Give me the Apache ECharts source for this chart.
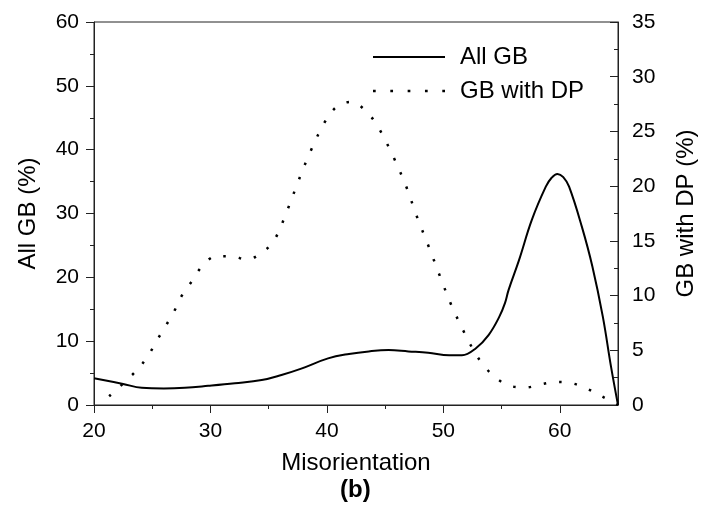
<!DOCTYPE html>
<html>
<head>
<meta charset="utf-8">
<script src="https://cdn.jsdelivr.net/npm/echarts@6/dist/echarts.min.js"></script>
<style>html,body{margin:0;padding:0;background:#fff}#c{width:713px;height:516px}</style>
</head>
<body>
<div id="c"></div>
<script>
// Data
var allGbX = [20, 22.5, 24.1, 26, 27.8, 29.8, 32.1, 34.4, 36.1, 37.8, 40.1, 41.9, 43.6, 45.3, 47.0, 48.7, 50.5, 51.6, 52.8, 53.9, 54.8, 55.3, 55.6, 56.5, 57.6, 58.8, 59.3, 59.8, 60.3, 60.8, 61.9, 62.8, 63.7, 64.4, 65];
var allGbY = [4.2, 3.3, 2.7, 2.6, 2.7, 3.0, 3.4, 3.9, 4.7, 5.7, 7.3, 8.0, 8.4, 8.6, 8.4, 8.2, 7.8, 7.8, 8.9, 11.0, 13.8, 16.0, 18.0, 22.7, 29.0, 34.2, 35.6, 36.2, 35.7, 34.2, 27.9, 21.7, 13.8, 6.0, 0];
var dpX = [21.3, 23.7, 24.7, 25.4, 26.2, 26.9, 27.6, 28.4, 29.3, 30.5, 31.8, 33.1, 34.4, 35.5, 36.6, 37.6, 38.6, 39.9, 40.9, 42.1, 43.4, 44.4, 45.7, 46.8, 47.7, 48.7, 49.7, 50.7, 51.9, 52.6, 53.4, 54.6, 55.9, 57.1, 58.4, 59.7, 61.0, 62.3, 63.6, 65];
var dpY = [0.8, 3.2, 4.6, 5.9, 7.3, 8.6, 10.1, 11.3, 12.7, 13.6, 13.6, 13.3, 13.9, 15.1, 17.8, 20.6, 23.2, 26.0, 27.3, 27.7, 26.8, 25.4, 22.7, 20.0, 17.3, 14.6, 11.8, 9.1, 6.4, 5.0, 3.7, 2.4, 1.7, 1.6, 1.9, 2.1, 2.0, 1.5, 0.8, 0];
var xMajorTicks = [20, 30, 40, 50, 60];
var xMinorTicks = [25, 35, 45, 55];
var seriesNames = ['All GB', 'GB with DP'];
var xTitle = 'Misorientation';
var yLeftTitle = 'All GB (%)';
var yRightTitle = 'GB with DP (%)';
var panelLabel = '(b)';

function zip(xs, ys) { return xs.map(function (x, i) { return [x, ys[i]]; }); }

var FONT = '"Liberation Sans", Arial, sans-serif';
var AX = '#222';
var solidIcon = 'path://M0,0 L72,0 L72,2 L0,2 Z';
var dotIcon = 'path://M0,0h2.5v2.5h-2.5Z M16,0h2.5v2.5h-2.5Z M32,0h2.5v2.5h-2.5Z M48,0h2.5v2.5h-2.5Z M64,0h2.5v2.5h-2.5Z';

var chart = echarts.init(document.getElementById('c'), null, {renderer: 'canvas'});
chart.setOption({
  animation: false,
  backgroundColor: '#fff',
  grid: {left: 94, right: 95, top: 22, bottom: 111, show: true, borderColor: AX, borderWidth: 1, backgroundColor: 'transparent'},
  legend: {
    orient: 'vertical', left: 368, top: 40, itemWidth: 72, itemHeight: 14, itemGap: 10,
    textStyle: {fontFamily: FONT, fontSize: 24, color: '#000', padding: [0, 0, 0, 10]},
    data: [{name: seriesNames[0], icon: solidIcon}, {name: seriesNames[1], icon: dotIcon}]
  },
  xAxis: [{
    type: 'value', min: 20, max: 65, interval: 10,
    name: xTitle, nameLocation: 'middle', nameGap: 46,
    nameTextStyle: {fontFamily: FONT, fontSize: 24, color: '#000'},
    axisLine: {show: true, onZero: false, lineStyle: {color: AX, width: 1}},
    axisTick: {show: true, length: 8, customValues: xMajorTicks, lineStyle: {color: AX}},
    axisLabel: {customValues: xMajorTicks, margin: 16, fontFamily: FONT, fontSize: 21, color: '#000'},
    splitLine: {show: false}
  }, {
    type: 'value', min: 20, max: 65, position: 'bottom', gridIndex: 0,
    axisLine: {show: false},
    axisTick: {show: true, length: 4, customValues: xMinorTicks, lineStyle: {color: AX}},
    axisLabel: {show: false},
    splitLine: {show: false}
  }],
  yAxis: [{
    type: 'value', min: 0, max: 60, interval: 10, position: 'left',
    name: yLeftTitle, nameLocation: 'middle', nameGap: 54, nameRotate: 90,
    nameTextStyle: {fontFamily: FONT, fontSize: 24, color: '#000'},
    axisLine: {show: true, lineStyle: {color: AX, width: 1}},
    axisTick: {show: true, length: 8, lineStyle: {color: AX}},
    minorTick: {show: true, splitNumber: 2, length: 4, lineStyle: {color: AX}},
    axisLabel: {margin: 15, fontFamily: FONT, fontSize: 21, color: '#000'},
    splitLine: {show: false}
  }, {
    type: 'value', min: 0, max: 35, interval: 5, position: 'right',
    name: yRightTitle, nameLocation: 'middle', nameGap: 56, nameRotate: 90,
    nameTextStyle: {fontFamily: FONT, fontSize: 24, color: '#000'},
    axisLine: {show: true, lineStyle: {color: AX, width: 1}},
    axisTick: {show: true, inside: true, length: 8, lineStyle: {color: AX}},
    minorTick: {show: true, splitNumber: 2, length: 4, lineStyle: {color: AX}},
    axisLabel: {margin: 14, fontFamily: FONT, fontSize: 21, color: '#000'},
    splitLine: {show: false}
  }],
  series: [{
    name: seriesNames[0], type: 'line', xAxisIndex: 0, yAxisIndex: 0,
    data: zip(allGbX, allGbY), smooth: 0.4, symbol: 'none',
    lineStyle: {color: '#000', width: 2}, itemStyle: {color: '#000'}
  }, {
    name: seriesNames[1], type: 'line', xAxisIndex: 0, yAxisIndex: 1,
    data: zip(dpX, dpY), smooth: 0.35, symbol: 'none',
    lineStyle: {color: '#000', width: 2.5, type: [2.5, 13]}, itemStyle: {color: '#000'}
  }],
  graphic: [{
    type: 'text', left: 340, top: 478,
    style: {text: panelLabel, fontFamily: FONT, fontSize: 24, fontWeight: 'bold', fill: '#000'}
  }]
});
</script>
</body>
</html>
